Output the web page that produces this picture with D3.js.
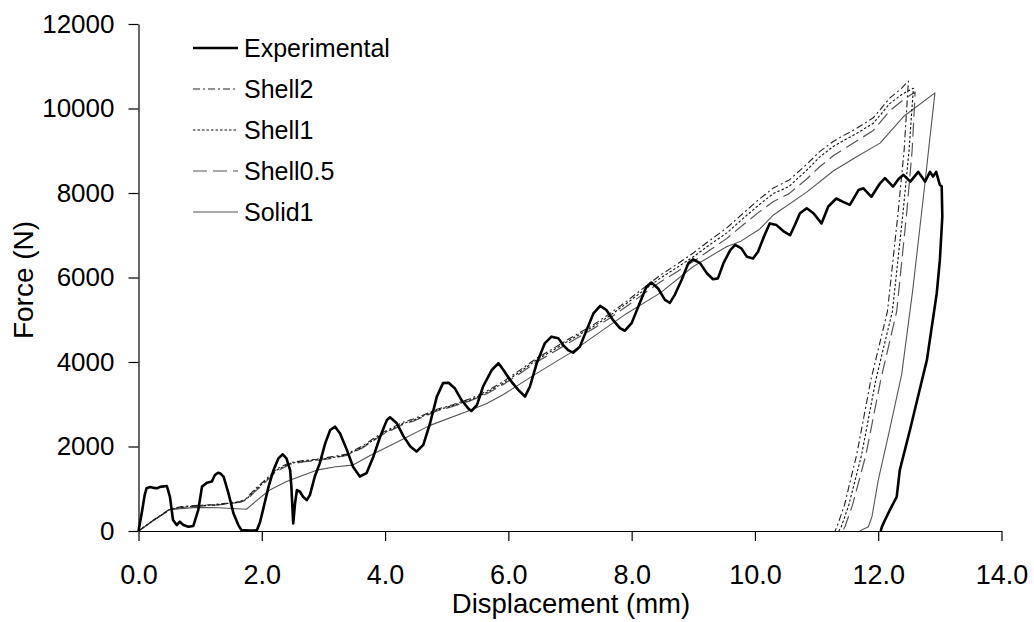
<!DOCTYPE html>
<html><head><meta charset="utf-8">
<script src="https://cdn.jsdelivr.net/npm/d3@7"></script>
<style>
html,body{margin:0;padding:0;background:#fff;}
svg{display:block;font-family:"Liberation Sans",Arial,sans-serif;}
</style></head>
<body><svg id="c" width="1034" height="622"></svg>
<script>
// ---- data ----
const seriesNames = ["Experimental","Shell2","Shell1","Shell0.5","Solid1"];
const xTicks = [0,2,4,6,8,10,12,14];
const yTicks = [0,2000,4000,6000,8000,10000,12000];

const experimental = [
[0,0],[0.05,400],[0.1,850],[0.13,1010],[0.19,1040],[0.25,1020],[0.30,1010],[0.34,1040],[0.38,1050],[0.46,1065],
[0.51,810],[0.56,260],[0.62,140],[0.67,220],[0.73,140],[0.81,100],[0.89,120],[0.97,500],[1.03,1050],[1.11,1140],
[1.19,1170],[1.24,1325],[1.29,1380],[1.33,1360],[1.38,1285],[1.46,890],[1.54,420],[1.62,140],[1.67,20],[1.80,10],
[1.92,20],[1.97,200],[2.02,500],[2.11,1050],[2.19,1440],[2.27,1720],[2.34,1815],[2.40,1720],[2.46,1440],[2.48,1050],
[2.51,180],[2.54,660],[2.57,970],[2.62,930],[2.67,810],[2.73,730],[2.78,850],[2.86,1290],[2.94,1600],[3.03,2080],
[3.11,2390],[3.19,2470],[3.27,2310],[3.38,1920],[3.48,1520],[3.59,1290],[3.70,1370],[3.81,1760],[3.92,2230],[4.03,2630],
[4.08,2690],[4.19,2550],[4.30,2240],[4.41,2000],[4.51,1880],[4.62,2040],[4.73,2550],[4.84,3180],[4.94,3500],[5.03,3510],
[5.13,3380],[5.24,3100],[5.35,2900],[5.40,2840],[5.49,2980],[5.59,3420],[5.73,3810],[5.84,3970],[5.92,3810],[6.03,3570],
[6.16,3340],[6.27,3180],[6.35,3420],[6.46,3970],[6.59,4440],[6.70,4600],[6.81,4560],[6.89,4400],[6.97,4280],[7.05,4220],
[7.16,4360],[7.27,4760],[7.38,5150],[7.49,5330],[7.59,5230],[7.70,4990],[7.81,4800],[7.89,4740],[8.00,4920],[8.13,5390],
[8.24,5780],[8.32,5880],[8.43,5740],[8.54,5470],[8.62,5400],[8.70,5590],[8.81,5940],[8.92,6340],[9.00,6430],[9.11,6340],
[9.22,6100],[9.32,5960],[9.40,5980],[9.49,6340],[9.60,6650],[9.68,6770],[9.78,6690],[9.87,6490],[9.97,6450],[10.05,6610],
[10.15,6980],[10.24,7280],[10.35,7240],[10.46,7100],[10.57,7000],[10.65,7250],[10.73,7520],[10.84,7640],[10.95,7520],[11.08,7280],
[11.19,7680],[11.32,7870],[11.43,7790],[11.54,7720],[11.68,8070],[11.76,8110],[11.89,7910],[12.03,8230],[12.11,8350],[12.24,8150],
[12.33,8330],[12.41,8430],[12.52,8270],[12.65,8500],[12.76,8270],[12.84,8500],[12.89,8390],[12.94,8500],[13.00,8190],[13.03,8160],
[13.04,7440],[13.00,6410],[12.95,5630],[12.87,4840],[12.79,4050],[12.69,3450],[12.52,2420],[12.35,1440],[12.30,810],[12.19,500],
[12.11,260],[12.06,100],[12.04,0]
];

const shell2 = [
[0,0],[0.25,270],[0.51,520],[0.67,570],[0.9,600],[1.21,625],[1.45,660],[1.65,700],[1.75,770],[1.88,980],
[2.02,1160],[2.24,1470],[2.46,1620],[2.7,1670],[2.89,1700],[3.15,1760],[3.38,1820],[3.65,2030],[3.97,2340],[4.3,2580],
[4.46,2650],[4.84,2880],[5.1,2990],[5.38,3130],[5.65,3310],[5.92,3540],[6.2,3820],[6.46,4090],[6.75,4340],[7.0,4560],
[7.38,4880],[7.65,5150],[7.92,5440],[8.2,5760],[8.46,6050],[8.75,6330],[9.0,6580],[9.27,6880],[9.54,7170],[9.81,7520],
[10.05,7830],[10.3,8120],[10.55,8300],[10.84,8680],[11.05,8980],[11.27,9220],[11.45,9370],[11.65,9530],[11.92,9780],[12.19,10250],
[12.38,10480],[12.49,10650],[12.42,9000],[12.32,7500],[12.15,5200],[11.88,3570],[11.65,1800],[11.45,600],[11.33,100],[11.30,0]
];

const shell1 = [
[0,0],[0.25,260],[0.51,510],[0.67,560],[0.9,590],[1.21,615],[1.45,650],[1.65,690],[1.75,750],[1.88,950],
[2.02,1130],[2.24,1440],[2.46,1600],[2.7,1660],[2.89,1680],[3.15,1740],[3.38,1800],[3.65,2000],[3.97,2310],[4.3,2550],
[4.46,2620],[4.84,2860],[5.1,2970],[5.38,3100],[5.65,3280],[5.92,3500],[6.2,3780],[6.46,4050],[6.75,4300],[7.0,4520],
[7.38,4840],[7.65,5100],[7.92,5390],[8.2,5700],[8.46,5980],[8.75,6250],[9.0,6490],[9.27,6780],[9.54,7050],[9.81,7400],
[10.05,7700],[10.3,7990],[10.55,8150],[10.84,8540],[11.05,8850],[11.27,9100],[11.45,9250],[11.65,9410],[11.92,9650],[12.19,10120],
[12.4,10350],[12.57,10480],[12.50,9000],[12.40,7500],[12.23,5200],[11.96,3570],[11.73,1800],[11.52,600],[11.40,100],[11.36,0]
];

const shell05 = [
[0,0],[0.25,255],[0.51,500],[0.67,550],[0.9,580],[1.21,605],[1.45,640],[1.65,680],[1.75,730],[1.88,920],
[2.02,1100],[2.24,1410],[2.46,1580],[2.7,1640],[2.89,1665],[3.15,1725],[3.38,1790],[3.65,1980],[3.97,2290],[4.3,2530],
[4.46,2600],[4.84,2840],[5.1,2950],[5.38,3080],[5.65,3250],[5.92,3470],[6.2,3740],[6.46,4000],[6.75,4250],[7.0,4470],
[7.38,4790],[7.65,5040],[7.92,5320],[8.2,5620],[8.46,5890],[8.75,6150],[9.0,6380],[9.27,6650],[9.54,6920],[9.81,7250],
[10.05,7530],[10.3,7800],[10.55,7980],[10.84,8330],[11.05,8620],[11.27,8880],[11.45,9050],[11.65,9230],[11.92,9480],[12.19,9950],
[12.42,10220],[12.60,10390],[12.55,9000],[12.46,7500],[12.30,5200],[12.04,3570],[11.80,1800],[11.58,600],[11.46,100],[11.42,0]
];

const solid1 = [
[0,0],[0.25,255],[0.5,505],[0.94,560],[1.3,550],[1.75,515],[1.95,760],[2.13,970],[2.4,1170],[2.89,1440],
[3.2,1520],[3.48,1560],[3.75,1780],[4.19,2100],[4.73,2500],[5.38,2860],[5.65,3020],[5.92,3230],[6.46,3730],[7.0,4210],
[7.38,4600],[7.92,5150],[8.46,5630],[9.0,6260],[9.54,6730],[9.76,6850],[10.08,7150],[10.3,7480],[10.84,8020],[11.27,8520],
[11.65,8860],[12.03,9180],[12.41,9810],[12.92,10370],[12.74,8000],[12.56,5700],[12.38,3700],[12.17,2300],[12.0,1200],[11.9,350],
[11.84,100],[11.70,0]
];

// ---- chart ----
const svg = d3.select("#c");
const x = d3.scaleLinear().domain([0,14]).range([138.5,1001.5]);
const y = d3.scaleLinear().domain([0,12000]).range([531,24]);

const styles = {
  "Experimental": {data: experimental, stroke:"#000", width:2.6, dash:null},
  "Shell2": {data: shell2, stroke:"#222", width:1.1, dash:"7,3,2,3"},
  "Shell1": {data: shell1, stroke:"#111", width:1.1, dash:"2.5,2"},
  "Shell0.5": {data: shell05, stroke:"#555", width:1.2, dash:"14,6"},
  "Solid1": {data: solid1, stroke:"#555", width:1.1, dash:null}
};

const line = d3.line().x(d=>x(d[0])).y(d=>y(d[1]));

// axes
const gx = svg.append("g").attr("transform","translate(0,531)")
  .call(d3.axisBottom(x).tickValues(xTicks).tickFormat(d3.format(".1f")).tickSize(10).tickSizeOuter(0).tickPadding(24));
const gy = svg.append("g").attr("transform","translate(138.5,0)")
  .call(d3.axisLeft(y).tickValues(yTicks).tickFormat(d3.format("d")).tickSize(10).tickSizeOuter(0).tickPadding(14));
[gx,gy].forEach(g=>{
  g.selectAll("path,line").attr("stroke","#000").attr("stroke-width",1.2);
  g.selectAll("text").attr("fill","#000").style("font-family","'Liberation Sans',Arial,sans-serif");
});
gx.selectAll("text").style("font-size","27px");
gy.selectAll("text").style("font-size","26px");

// series (draw light ones first, experimental last)
["Solid1","Shell0.5","Shell1","Shell2","Experimental"].forEach(n=>{
  const s = styles[n];
  svg.append("path").datum(s.data)
    .attr("fill","none").attr("stroke",s.stroke).attr("stroke-width",s.width)
    .attr("stroke-dasharray",s.dash).attr("stroke-linejoin","round")
    .attr("d",line);
});

// axis titles
svg.append("text").attr("x",571).attr("y",613).attr("text-anchor","middle")
  .style("font-size","27.5px").attr("fill","#000").text("Displacement (mm)");
svg.append("text").attr("transform","translate(33,280) rotate(-90)").attr("text-anchor","middle")
  .style("font-size","28px").attr("fill","#000").text("Force (N)");

// legend
const legY = [48,89,130,171,212];
seriesNames.forEach((n,i)=>{
  const s = styles[n];
  svg.append("line").attr("x1",193).attr("x2",238).attr("y1",legY[i]).attr("y2",legY[i])
    .attr("stroke",s.stroke).attr("stroke-width",s.width).attr("stroke-dasharray",s.dash);
  svg.append("text").attr("x",244).attr("y",legY[i]+9).style("font-size","25px").attr("fill","#000").text(n);
});
</script></body></html>
